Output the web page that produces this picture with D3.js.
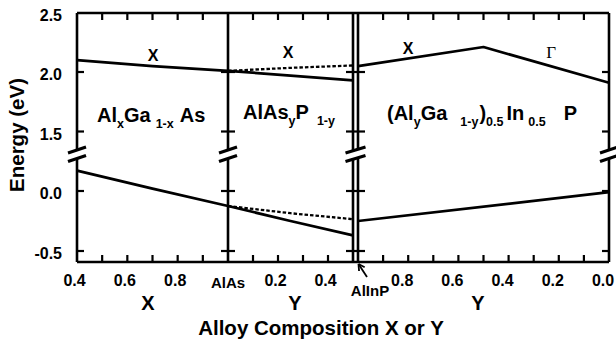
<!DOCTYPE html>
<html>
<head>
<meta charset="utf-8">
<script src="https://cdn.jsdelivr.net/npm/d3@7"></script>
<style>
  body { margin: 0; background: white; }
  text { font-family: "Liberation Sans", Arial, Helvetica, sans-serif; font-weight: bold; fill: black; }
</style>
</head>
<body>
<svg width="616" height="343"></svg>
<script>
// ---- data ----
// panel A: AlxGa1-xAs, composition X
const compA = [0.4, 0.7, 1.0];
const xBandA = [2.10, 2.05, 2.01];
const gBandA = [0.17, 0.02, -0.125];
// panel B: AlAsyP1-y, composition Y
const compB = [0, 0.25, 0.5];
const xBandB = [2.01, 1.97, 1.93];
const xBandBdash = [2.01, 2.035, 2.055];
const gBandB = [-0.125, -0.25, -0.37];
const gBandBdash = [-0.125, -0.185, -0.235];
// panel C: (AlyGa1-y)0.5In0.5P, composition Y (reversed)
const compC = [1.0, 0.5, 0.0];
const xBandC = [2.05, 2.21, 1.91];
const compClow = [1.0, 0.0];
const gBandC = [-0.25, -0.01];

const yTicksHi = [2.5, 2.0, 1.5];
const yTicksLo = [0.0, -0.5];
const minorA = [0.5, 0.6, 0.7, 0.8, 0.9];
const minorB = [0.1, 0.2, 0.3, 0.4];
const minorC = [0.9, 0.8, 0.7, 0.6, 0.5, 0.4, 0.3, 0.2, 0.1];
const labelsA = [0.4, 0.6, 0.8];
const labelsB = [0.2, 0.4];
const labelsC = [0.8, 0.6, 0.4, 0.2, 0.0];

const svg = d3.select('svg');
const plotTop = 13, plotBottom = 262;

const xA = d3.scaleLinear().domain([0.4, 1.0]).range([77, 228]);
const xB = d3.scaleLinear().domain([0, 0.5]).range([228, 353]);
const xC = d3.scaleLinear().domain([1.0, 0.0]).range([358, 609]);
const yHi = d3.scaleLinear().domain([1.5, 2.5]).range([131.5, 12.5]);
const yLo = d3.scaleLinear().domain([-0.5, 0]).range([251, 191]);

const breakTop = 150, breakBot = 158.5;
const vLines = [xA(0.4), xA(1.0), xB(0.5), xC(1.0), xC(0.0)];

const g = svg.append('g');

// frame: horizontal lines
g.selectAll('line.h').data([plotTop, plotBottom]).enter().append('line')
    .attr('x1', xA(0.4)).attr('x2', xC(0.0))
    .attr('y1', d => d).attr('y2', d => d)
    .attr('stroke', 'black').attr('stroke-width', 2.6);

// vertical lines, broken at the axis break
vLines.forEach(x => {
    [[plotTop, breakTop], [breakBot, plotBottom]].forEach(([a, b]) => {
        g.append('line').attr('x1', x).attr('x2', x).attr('y1', a).attr('y2', b)
            .attr('stroke', 'black').attr('stroke-width', 2.6);
    });
});

// break slashes
[[xA(0.4), 9], [xA(1.0), 9], [(xB(0.5) + xC(1.0)) / 2, 10], [xC(0.0), 9]].forEach(([x, w]) => {
    [breakTop, breakBot].forEach(yb => {
        g.append('line').attr('x1', x - w).attr('y1', yb + 3).attr('x2', x + w).attr('y2', yb - 3)
            .attr('stroke', 'black').attr('stroke-width', 3.2);
    });
});

// y ticks on vertical lines
const yTickPos = [yHi(2.0), yHi(1.5), yLo(0.0), yLo(-0.5)];
const tickSpans = [
    [xA(0.4), xA(0.4) + 7],
    [xA(1.0) - 7, xA(1.0) + 7],
    [xB(0.5) - 7, xC(1.0) + 7],
    [xC(0.0) - 7, xC(0.0)]
];
tickSpans.forEach(([a, b]) => {
    g.selectAll(null).data(yTickPos).enter().append('line')
        .attr('x1', a).attr('x2', b).attr('y1', d => d).attr('y2', d => d)
        .attr('stroke', 'black').attr('stroke-width', 2.2);
});

// x ticks top and bottom
const xTicks = [].concat(minorA.map(xA), minorB.map(xB), minorC.map(xC));
[[plotTop, plotTop + 7], [plotBottom, plotBottom - 7]].forEach(([a, b]) => {
    g.selectAll(null).data(xTicks).enter().append('line')
        .attr('x1', d => d).attr('x2', d => d).attr('y1', a).attr('y2', b)
        .attr('stroke', 'black').attr('stroke-width', 2.2);
});

// y tick labels
const yLabels = yTicksHi.map(v => [yHi(v), v]).concat(yTicksLo.map(v => [yLo(v), v]));
g.selectAll(null).data(yLabels).enter().append('text')
    .attr('x', 62).attr('y', d => d[0] + 8)
    .attr('text-anchor', 'end').attr('font-size', 16)
    .text(d => d3.format('.1f')(d[1]).replace('−', '-'));

// x tick labels
const xLabels = labelsA.map(v => [xA(v) - 2.5, v]).concat(labelsB.map(v => [xB(v) - 2.5, v]), labelsC.map(v => [xC(v) - 6, v]));
g.selectAll(null).data(xLabels).enter().append('text')
    .attr('x', d => d[0]).attr('y', 285.5)
    .attr('text-anchor', 'middle').attr('font-size', 16)
    .text(d => d3.format('.1f')(d[1]));

g.append('text').attr('x', xA(1.0)).attr('y', 287.5).attr('text-anchor', 'middle')
    .attr('font-size', 15).text('AlAs');
g.append('text').attr('x', 370).attr('y', 295.5).attr('text-anchor', 'middle')
    .attr('font-size', 15).text('AlInP');

// arrow to AlInP
const tip = [xC(1.0) + 0.5, plotBottom + 2], tail = [367, 277];
const ang = Math.atan2(tail[1] - tip[1], tail[0] - tip[0]);
g.append('line').attr('x1', tail[0]).attr('y1', tail[1]).attr('x2', tip[0]).attr('y2', tip[1])
    .attr('stroke', 'black').attr('stroke-width', 1.8);
[-0.5, 0.5].forEach(da => {
    g.append('line').attr('x1', tip[0]).attr('y1', tip[1])
        .attr('x2', tip[0] + 7 * Math.cos(ang + da)).attr('y2', tip[1] + 7 * Math.sin(ang + da))
        .attr('stroke', 'black').attr('stroke-width', 1.8);
});

// axis titles
[['X', 148], ['Y', 295], ['Y', 478]].forEach(([t, x]) => {
    g.append('text').attr('x', x).attr('y', 310).attr('text-anchor', 'middle')
        .attr('font-size', 20).text(t);
});
g.append('text').attr('x', 321).attr('y', 335).attr('text-anchor', 'middle')
    .attr('font-size', 20.5).text('Alloy Composition X or Y');
g.append('text').attr('transform', 'translate(24,135) rotate(-90)')
    .attr('text-anchor', 'middle').attr('font-size', 20.5).text('Energy (eV)');

// data lines
const drawLine = (xs, ys, xScale, yScale, dashed) => {
    const pts = xs.map((v, i) => [v, ys[i]]);
    g.append('path').datum(pts)
        .attr('d', d3.line().x(d => xScale(d[0])).y(d => yScale(d[1])))
        .attr('fill', 'none').attr('stroke', 'black')
        .attr('stroke-width', dashed ? 2.3 : 2.7)
        .attr('stroke-dasharray', dashed ? '3.5,2' : null)
        .attr('stroke-linejoin', 'round');
};
drawLine(compA, xBandA, xA, yHi);
drawLine(compA, gBandA, xA, yLo);
drawLine(compB, xBandBdash, xB, yHi, true);
drawLine(compB, gBandBdash, xB, yLo, true);
drawLine(compB, xBandB, xB, yHi);
drawLine(compB, gBandB, xB, yLo);
drawLine(compC, xBandC, xC, yHi);
drawLine(compClow, gBandC, xC, yLo);

// band labels
const bandLabels = [['X', xA(0.7) + 0.5, 2.14], ['X', xB(0.24), 2.17], ['X', xC(0.8), 2.2]];
bandLabels.forEach(([t, x, e]) => {
    g.append('text').attr('x', x).attr('y', yHi(e) + 6).attr('text-anchor', 'middle')
        .attr('font-size', 16).text(t);
});
g.append('text').attr('x', xC(0.23)).attr('y', yHi(2.17) + 6).attr('text-anchor', 'middle')
    .attr('font-size', 17).style('font-family', '"Liberation Serif", serif').style('font-weight', 'normal')
    .text('Γ');

// material labels with subscripts: [text, subscript?, dx]
const labelA = [['Al'], ['x', 1], ['Ga'], ['1-x', 1, 5], ['As', 0, 6]];
const labelB = [['AlAs'], ['y', 1], ['P'], ['1-y', 1, 8]];
const labelC = [['('], ['Al'], ['y', 1], ['Ga'], ['1-y', 1, 13], [')', 0, 1], ['0.5', 1], ['In', 0, 3], ['0.5', 1, 4], ['P', 0, 18]];
const richText = (x, y, parts) => {
    const t = g.append('text').attr('x', x).attr('y', y);
    let shift = 0;
    parts.forEach(([s, sub, dx]) => {
        const target = sub ? 6 : 0;
        t.append('tspan').attr('dx', dx || 0).attr('dy', target - shift)
            .attr('font-size', sub ? 12.5 : 20).text(s);
        shift = target;
    });
};
richText(97, 122, labelA);
richText(243, 119, labelB);
richText(387, 120, labelC);
</script>
</body>
</html>
